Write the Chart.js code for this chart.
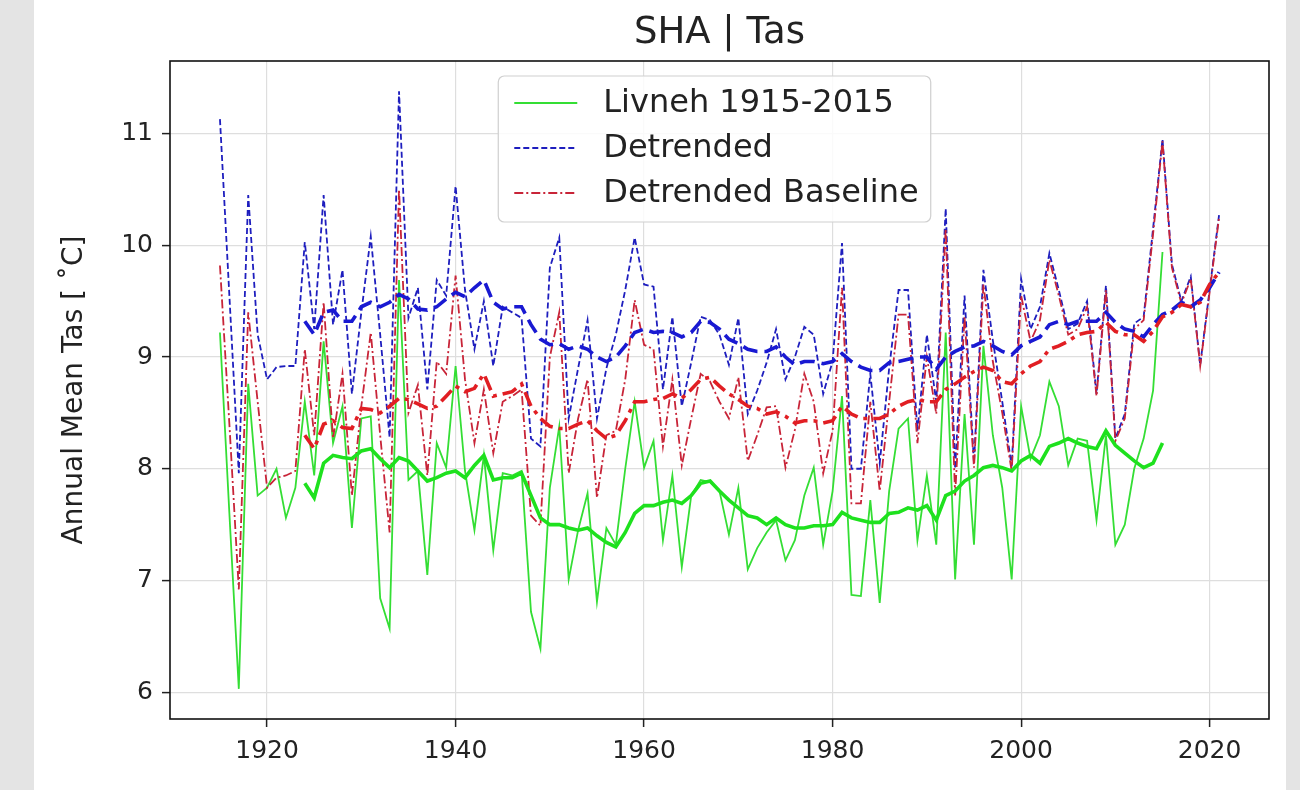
<!DOCTYPE html>
<html>
<head>
<meta charset="utf-8">
<style>
	body{
		margin:0;
		background:#e4e4e4;
	}
	#panel{
		position:absolute;
		left:34px;
		top:0;
		width:1252px;
		height:790px;
		background:#fff;
	}
	canvas{
		position:absolute;
		left:0;
		top:0;
	}
</style>
</head>
<body>
<div id="panel"></div>
<canvas id="myChart" width="1300" height="790"></canvas>
<script src="https://cdn.jsdelivr.net/npm/chart.js"></script>
<script>
const years = [
	1915,1916,1917,1918,1919,1920,1921,1922,1923,1924,
	1925,1926,1927,1928,1929,1930,1931,1932,1933,1934,
	1935,1936,1937,1938,1939,1940,1941,1942,1943,1944,
	1945,1946,1947,1948,1949,1950,1951,1952,1953,1954,
	1955,1956,1957,1958,1959,1960,1961,1962,1963,1964,
	1965,1966,1967,1968,1969,1970,1971,1972,1973,1974,
	1975,1976,1977,1978,1979,1980,1981,1982,1983,1984,
	1985,1986,1987,1988,1989,1990,1991,1992,1993,1994,
	1995,1996,1997,1998,1999,2000,2001,2002,2003,2004,
	2005,2006,2007,2008,2009,2010,2011,2012,2013,2014,
	2015,2016,2017,2018,2019,2020,2021
]

// Livneh observed annual mean, 1915-2015
const livneh = [
	9.22,7.60,6.03,8.76,7.76,7.83,8.00,7.56,7.83,8.60,
	7.94,9.14,8.23,8.56,7.47,8.45,8.47,6.84,6.57,9.69,
	7.90,7.98,7.05,8.23,8.01,8.92,7.98,7.45,8.12,7.27,
	7.96,7.94,7.98,6.72,6.39,7.83,8.38,7.01,7.45,7.78,
	6.81,7.47,7.32,8.00,8.60,8.01,8.25,7.36,7.94,7.12,
	7.76,7.90,7.88,7.80,7.41,7.83,7.10,7.29,7.43,7.54,
	7.18,7.36,7.76,8.01,7.32,7.80,8.65,6.87,6.86,7.72,
	6.80,7.80,8.36,8.45,7.36,7.94,7.32,9.22,7.01,8.49,
	7.32,9.10,8.30,7.83,7.01,8.56,8.09,8.30,8.78,8.56,
	8.03,8.27,8.25,7.54,8.30,7.32,7.50,8.00,8.27,8.70,
	9.94
]

// detrended series, 1915-2021
const detrended = [
	11.13,9.55,7.96,10.45,9.20,8.80,8.91,8.92,8.92,10.03,
	9.25,10.45,9.29,9.78,8.67,9.40,10.08,9.20,8.28,11.38,
	9.35,9.62,8.71,9.69,9.55,10.53,9.60,9.07,9.50,8.92,
	9.45,9.40,9.35,8.27,8.20,9.80,10.07,8.45,8.90,9.33,
	8.45,8.90,9.20,9.60,10.07,9.65,9.63,8.71,9.36,8.56,
	8.95,9.36,9.33,9.20,8.93,9.35,8.49,8.70,8.95,9.25,
	8.80,9.00,9.27,9.20,8.67,8.96,10.02,8.00,8.00,8.85,
	8.05,8.90,9.60,9.60,8.34,9.20,8.60,10.33,8.00,9.55,
	8.05,9.78,9.15,8.60,8.02,9.70,9.25,9.45,9.93,9.60,
	9.25,9.30,9.50,8.67,9.64,8.27,8.49,9.30,9.36,10.15,
	10.95,9.83,9.50,9.72,8.93,9.60,10.27
]

// detrended baseline, 1915-2021
const baseline = [
	9.82,8.40,6.92,9.40,8.60,7.83,7.92,7.94,7.98,9.07,
	8.30,9.49,8.27,8.85,7.76,8.56,9.22,8.30,7.43,10.50,
	8.50,8.75,7.94,8.96,8.85,9.73,8.80,8.23,8.71,8.14,
	8.60,8.65,8.71,7.58,7.49,9.00,9.40,7.96,8.45,8.80,
	7.74,8.30,8.34,8.80,9.51,9.11,9.07,8.20,8.80,8.03,
	8.45,8.85,8.78,8.60,8.45,8.82,8.07,8.30,8.55,8.56,
	8.01,8.35,8.85,8.60,7.96,8.34,9.62,7.69,7.69,8.60,
	7.80,8.60,9.38,9.38,8.23,9.00,8.49,10.15,7.76,9.36,
	8.01,9.65,8.96,8.50,7.98,9.55,9.14,9.33,9.87,9.55,
	9.20,9.25,9.45,8.65,9.60,8.25,8.45,9.25,9.33,10.10,
	10.93,9.80,9.48,9.70,8.92,9.58,10.25
]

// 10-year running means, first value at 1924
const livnehMean = [
	7.87,7.74,8.05,8.12,8.10,8.09,8.16,8.18,8.09,8.01,
	8.10,8.07,7.98,7.89,7.92,7.96,7.98,7.92,8.03,8.12,
	7.90,7.92,7.92,7.96,7.76,7.56,7.50,7.50,7.47,7.45,
	7.47,7.40,7.34,7.30,7.43,7.60,7.67,7.67,7.70,7.72,
	7.69,7.76,7.87,7.89,7.80,7.72,7.65,7.58,7.56,7.50,
	7.56,7.50,7.47,7.47,7.49,7.49,7.50,7.61,7.56,7.54,
	7.52,7.52,7.60,7.61,7.65,7.63,7.67,7.54,7.76,7.80,
	7.89,7.94,8.01,8.03,8.01,7.98,8.07,8.12,8.05,8.20,
	8.23,8.27,8.23,8.20,8.18,8.34,8.21,8.14,8.07,8.01,
	8.05,8.23
]
const detrendedMean = [
	9.32,9.20,9.40,9.42,9.32,9.32,9.45,9.49,9.45,9.49,
	9.56,9.52,9.43,9.42,9.45,9.52,9.58,9.54,9.62,9.69,
	9.49,9.43,9.45,9.45,9.29,9.16,9.11,9.12,9.07,9.10,
	9.07,9.00,8.96,9.00,9.10,9.22,9.25,9.22,9.23,9.22,
	9.18,9.22,9.32,9.31,9.25,9.16,9.12,9.07,9.05,9.05,
	9.09,9.00,8.93,8.96,8.96,8.94,8.96,9.03,8.96,8.91,
	8.88,8.88,8.95,8.96,8.98,9.00,9.00,8.89,9.00,9.05,
	9.09,9.10,9.14,9.10,9.05,9.02,9.10,9.14,9.18,9.29,
	9.32,9.29,9.32,9.32,9.32,9.40,9.31,9.25,9.23,9.18,
	9.29,9.38,9.42,9.49,9.45,9.51,9.62,9.76
]
const baselineMean = [
	8.30,8.18,8.40,8.43,8.37,8.36,8.54,8.53,8.50,8.56,
	8.63,8.62,8.58,8.54,8.56,8.65,8.74,8.69,8.72,8.85,
	8.65,8.67,8.69,8.76,8.56,8.45,8.38,8.36,8.36,8.40,
	8.43,8.34,8.27,8.30,8.43,8.60,8.60,8.62,8.63,8.67,
	8.63,8.71,8.80,8.82,8.74,8.67,8.62,8.56,8.54,8.49,
	8.51,8.47,8.41,8.43,8.43,8.41,8.43,8.56,8.49,8.45,
	8.45,8.45,8.49,8.56,8.60,8.62,8.60,8.60,8.71,8.76,
	8.82,8.87,8.91,8.88,8.78,8.76,8.85,8.92,8.96,9.07,
	9.10,9.14,9.20,9.22,9.23,9.31,9.23,9.20,9.20,9.14,
	9.23,9.36,9.40,9.47,9.45,9.49,9.65,9.76
]

const xTicks = [1920, 1940, 1960, 1980, 2000, 2020]
const yTicks = [6, 7, 8, 9, 10, 11]

const green = 'rgb(52,222,52)'
const blue = 'rgb(30,30,190)'
const red = 'rgb(200,36,56)'
const FONT = '"DejaVu Sans", sans-serif'

function toPoints(xs, ys){
	return ys.map((v, i) => ({x: xs[i], y: v}))
}

const datasets = [
	{label: 'Livneh 1915-2015', data: toPoints(years, livneh), borderColor: green, borderWidth: 1.8, order: 6, inLegend: true},
	{label: 'Detrended', data: toPoints(years, detrended), borderColor: blue, borderWidth: 1.8, borderDash: [6, 3], order: 5, inLegend: true},
	{label: 'Detrended Baseline', data: toPoints(years, baseline), borderColor: red, borderWidth: 1.8, borderDash: [9, 3, 2, 3], order: 4, inLegend: true},
	{label: 'Livneh mean', data: toPoints(years.slice(9), livnehMean), borderColor: 'rgb(30,225,30)', borderWidth: 3.6, order: 3},
	{label: 'Detrended mean', data: toPoints(years.slice(9), detrendedMean), borderColor: 'rgb(25,25,210)', borderWidth: 3.6, borderDash: [15, 7], order: 2},
	{label: 'Baseline mean', data: toPoints(years.slice(9), baselineMean), borderColor: 'rgb(225,30,35)', borderWidth: 3.6, borderDash: [15, 6, 4, 6], order: 1}
]
datasets.forEach(d => { d.pointRadius = 0; d.tension = 0; d.fill = false })

// box around the axes plus the title
const frame = {
	id: 'frame',
	afterDatasetsDraw(chart){
		const {ctx, chartArea: a} = chart
		ctx.save()
		ctx.strokeStyle = '#111'
		ctx.lineWidth = 1.6
		ctx.strokeRect(a.left, a.top, a.right - a.left, a.bottom - a.top)
		ctx.fillStyle = '#222'
		ctx.font = '37px ' + FONT
		ctx.textAlign = 'center'
		ctx.textBaseline = 'middle'
		ctx.fillText('SHA | Tas', (a.left + a.right) / 2, 33)
		ctx.restore()
	}
}

// legend box in the upper middle of the plot
const boxLegend = {
	id: 'boxLegend',
	afterDraw(chart){
		const {ctx, chartArea: a} = chart
		const items = chart.data.datasets.filter(d => d.inLegend)
		ctx.save()
		ctx.font = '32px ' + FONT
		const textW = Math.max(...items.map(d => ctx.measureText(d.label).width))
		const w = 16 + 63 + 26 + textW + 12
		const h = 146
		const x0 = (a.left + a.right) / 2 - w / 2 - 5
		const y0 = a.top + 15
		ctx.beginPath()
		ctx.roundRect(x0, y0, w, h, 6)
		ctx.fillStyle = 'rgba(255,255,255,0.85)'
		ctx.fill()
		ctx.strokeStyle = '#cfcfcf'
		ctx.lineWidth = 1.2
		ctx.stroke()
		items.forEach((d, i) => {
			const y = y0 + 27 + i * 45
			ctx.beginPath()
			ctx.setLineDash(d.borderDash || [])
			ctx.strokeStyle = d.borderColor
			ctx.lineWidth = 1.8
			ctx.moveTo(x0 + 16, y)
			ctx.lineTo(x0 + 79, y)
			ctx.stroke()
			ctx.setLineDash([])
			ctx.fillStyle = '#222'
			ctx.textBaseline = 'middle'
			ctx.fillText(d.label, x0 + 105, y + 1)
		})
		ctx.restore()
	}
}

const config = {
	type: 'line',
	data: {datasets: datasets},
	options: {
		responsive: false,
		animation: false,
		layout: {padding: {left: 58, right: 31, top: 61, bottom: 0}},
		plugins: {legend: {display: false}, tooltip: {enabled: false}},
		scales: {
			x: {
				type: 'linear',
				min: 1909.7,
				max: 2026.3,
				afterFit: s => { s.height = 71 },
				afterBuildTicks: s => { s.ticks = xTicks.map(v => ({value: v})) },
				ticks: {font: {family: FONT, size: 25}, color: '#222', padding: 9, maxRotation: 0, autoSkip: false, callback: v => String(v)},
				grid: {color: '#dedede', lineWidth: 1.2, tickLength: 8, tickColor: '#222', tickWidth: 1.5},
				border: {display: false}
			},
			y: {
				type: 'linear',
				min: 5.76,
				max: 11.65,
				afterFit: s => { s.width = 112 },
				afterBuildTicks: s => { s.ticks = yTicks.map(v => ({value: v})) },
				ticks: {font: {family: FONT, size: 25}, color: '#222', padding: 9, callback: v => String(v)},
				grid: {color: '#dedede', lineWidth: 1.2, tickLength: 8, tickColor: '#222', tickWidth: 1.5},
				border: {display: false},
				title: {display: true, text: 'Annual Mean Tas [ ˚C]', font: {family: FONT, size: 28}, color: '#222', padding: 0}
			}
		}
	},
	plugins: [frame, boxLegend]
}

const myChart = new Chart(document.getElementById('myChart'), config)
</script>
</body>
</html>
